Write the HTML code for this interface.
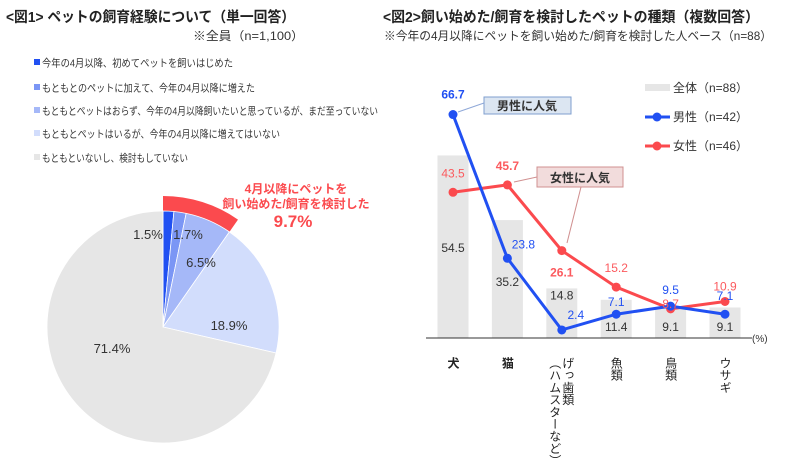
<!DOCTYPE html>
<html><head><meta charset="utf-8">
<style>
body{margin:0;background:#fff;width:788px;height:468px;overflow:hidden;font-family:"Liberation Sans","Noto Sans CJK JP",sans-serif;}
svg text{font-family:"Liberation Sans","Noto Sans CJK JP",sans-serif;}
</style></head><body>
<svg id="c" width="788" height="468" xmlns="http://www.w3.org/2000/svg">
<text x="6" y="22" font-size="14.5" font-weight="bold" fill="#222" textLength="289" lengthAdjust="spacingAndGlyphs">&lt;図1&gt; ペットの飼育経験について（単一回答）</text>
<text x="193" y="40" font-size="12" fill="#333" textLength="111" lengthAdjust="spacingAndGlyphs">※全員（n=1,100）</text>
<text x="383" y="22" font-size="14.5" font-weight="bold" fill="#222" textLength="376" lengthAdjust="spacingAndGlyphs">&lt;図2&gt;飼い始めた/飼育を検討したペットの種類（複数回答）</text>
<text x="384" y="40" font-size="12" fill="#333" textLength="388" lengthAdjust="spacingAndGlyphs">※今年の4月以降にペットを飼い始めた/飼育を検討した人ベース（n=88）</text>
<g id="pieLegend"></g>
<g id="pie"></g>
<g id="line"></g>
</svg>
<script>
const NS="http://www.w3.org/2000/svg";
function mk(p,tag,attrs,txt){const e=document.createElementNS(NS,tag);for(const k in attrs)e.setAttribute(k,attrs[k]);if(txt!=null)e.textContent=txt;p.appendChild(e);return e;}

// pie data
const pieLabels=["今年の4月以降、初めてペットを飼いはじめた","もともとのペットに加えて、今年の4月以降に増えた","もともとペットはおらず、今年の4月以降飼いたいと思っているが、まだ至っていない","もともとペットはいるが、今年の4月以降に増えてはいない","もともといないし、検討もしていない"];
const pieValues=[1.5,1.7,6.5,18.9,71.4];
const pieColors=["#2150f2","#7b96f5","#a5b8f8","#d2ddfc","#e6e6e6"];
const highlightValue=9.7;

const lg=document.getElementById('pieLegend');
const ly=[63,88,111,134,158];
const lw=[191,213,336,238,146];
pieLabels.forEach((l,i)=>{
  const g=mk(lg,'g',{});
  
  
  mk(g,'rect',{x:34,y:ly[i]-4,width:6,height:6,fill:pieColors[i]});
  mk(g,'text',{x:42,y:ly[i]+3.5,'font-size':10.5,fill:'#333',textLength:lw[i],lengthAdjust:'spacingAndGlyphs'},l);
});

const pg=document.getElementById('pie');
const cx=163,cy=327,R=116;
function pt(r,frac){const a=frac*2*Math.PI-Math.PI/2;return [cx+r*Math.cos(a),cy+r*Math.sin(a)];}
function sector(r,f0,f1){const p0=pt(r,f0),p1=pt(r,f1);const la=(f1-f0)>0.5?1:0;return `M${cx},${cy}L${p0[0]},${p0[1]}A${r},${r} 0 ${la} 1 ${p1[0]},${p1[1]}Z`;}
const hl=mk(pg,'path',{d:sector(131,0,highlightValue/100),fill:'#fb4a4e'});


let acc=0;
pieValues.forEach((v,i)=>{
  const f0=acc/100,f1=(acc+v)/100;
  const s=mk(pg,'path',{d:sector(R,f0,f1),fill:pieColors[i],stroke:'#fff','stroke-width':0.8});
  
  
  acc+=v;
});
const sl=[[148,239],[188,239],[201,267],[229,330],[112,353]];
sl.forEach((s,i)=>{const t=mk(pg,'text',{x:s[0],y:s[1],'font-size':13,fill:'#333','text-anchor':'middle'},pieValues[i].toFixed(1)+'%');
 });
mk(pg,'text',{x:296,y:193,'font-size':12,fill:'#fb4a4e','text-anchor':'middle','font-weight':'bold'},'4月以降にペットを');
mk(pg,'text',{x:296,y:208,'font-size':12,fill:'#fb4a4e','text-anchor':'middle','font-weight':'bold'},'飼い始めた/飼育を検討した');
mk(pg,'text',{x:293,y:227,'font-size':17,fill:'#fb4a4e','text-anchor':'middle','font-weight':'bold'},highlightValue.toFixed(1)+'%');

// line chart data
const cats=[["犬"],["猫"],["げっ歯類","（ハムスターなど）"],["魚類"],["鳥類"],["ウサギ"]];
const totalVals=[54.5,35.2,14.8,11.4,9.1,9.1];
const maleVals=[66.7,23.8,2.4,7.1,9.5,7.1];
const femaleVals=[43.5,45.7,26.1,15.2,8.7,10.9];

const lc=document.getElementById('line');
const base=338,sc=3.35;
const xs=i=>453+i*54.4;
const ys=v=>base-v*sc;
totalVals.forEach((v,i)=>{
  const r=mk(lc,'rect',{x:xs(i)-15.5,y:ys(v),width:31,height:v*sc,fill:'#e6e6e6'});
  
  
});
const ax=mk(lc,'line',{x1:426,x2:752,y1:base,y2:base,stroke:'#333','stroke-width':1});

mk(lc,'text',{x:752,y:342,'font-size':10,fill:'#333'},'(%)');
totalVals.forEach((v,i)=>{const t=mk(lc,'text',{x:xs(i),y:0,'font-size':12,fill:'#333','text-anchor':'middle'},v.toFixed(1));
 t.setAttribute('y', i===0?252:i===1?286:i===2?ys(v)+11:331);
 });
mk(lc,'line',{x1:458,y1:112,x2:484,y2:103,stroke:'#8fa8d8','stroke-width':1});
const cb1=mk(lc,'rect',{x:484,y:97,width:87,height:17,fill:'#dce6f2',stroke:'#7f9fcf'});

mk(lc,'text',{x:527,y:110,'font-size':12,'font-weight':'bold',fill:'#333','text-anchor':'middle'},'男性に人気');
mk(lc,'line',{x1:514,y1:182,x2:537,y2:177,stroke:'#d09090','stroke-width':1});
mk(lc,'line',{x1:581,y1:187,x2:567,y2:243,stroke:'#d09090','stroke-width':1});
const cb2=mk(lc,'rect',{x:537,y:167,width:86,height:20,fill:'#f2dcdc',stroke:'#d09090'});

mk(lc,'text',{x:580,y:182,'font-size':12,'font-weight':'bold',fill:'#333','text-anchor':'middle'},'女性に人気');
function series(vals,color,name){
  const p=mk(lc,'polyline',{points:vals.map((v,i)=>xs(i)+','+ys(v)).join(' '),fill:'none',stroke:color,'stroke-width':3});
  
  vals.forEach((v,i)=>{const c=mk(lc,'circle',{cx:xs(i),cy:ys(v),r:4.5,fill:color});
   });
}
series(femaleVals,'#fb4a4e','female');
series(maleVals,'#2150f2','male');
const mOff=[[0,-16],[16,-10],[14,-11],[0,-8],[0,-12],[0,-14]];
const mBold=[true,false,false,false,false,false];
maleVals.forEach((v,i)=>{const t=mk(lc,'text',{x:xs(i)+mOff[i][0],y:ys(v)+mOff[i][1],'font-size':12,fill:'#2150f2','text-anchor':'middle','font-weight':mBold[i]?'bold':'normal'},v.toFixed(1));
 });
const fOff=[[0,-15],[0,-15],[0,26],[0,-15],[0,-1],[0,-11]];
const fBold=[false,true,true,false,false,false];
femaleVals.forEach((v,i)=>{const t=mk(lc,'text',{x:xs(i)+fOff[i][0],y:ys(v)+fOff[i][1],'font-size':12,fill:'#fb5a5e','text-anchor':'middle','font-weight':fBold[i]?'bold':'normal'},v.toFixed(1));
 });
cats.forEach((c,i)=>{
  const g=mk(lc,'g',{});
  
  const bold=i<2;
  const cols=c.length;
  c.forEach((col,j)=>{
    const x= xs(i) + (cols===1?0:(j===0?6:-7));
    [...col].forEach((ch,k)=>{
      mk(g,'text',{x:x,y:363+k*12.2,'font-size':12,'font-weight':bold?'bold':'normal',fill:'#222','text-anchor':'middle','writing-mode':'tb'},ch);
    });
  });
});
const lg2=mk(lc,'g',{});

mk(lg2,'rect',{x:645,y:84,width:25,height:7,fill:'#e6e6e6'});
mk(lg2,'text',{x:673,y:92,'font-size':12,fill:'#333'},'全体（n=88）');
mk(lg2,'line',{x1:645,x2:670,y1:117,y2:117,stroke:'#2150f2','stroke-width':3});
mk(lg2,'circle',{cx:657,cy:117,r:4.5,fill:'#2150f2'});
mk(lg2,'text',{x:673,y:121,'font-size':12,fill:'#333'},'男性（n=42）');
mk(lg2,'line',{x1:645,x2:670,y1:146,y2:146,stroke:'#fb4a4e','stroke-width':3});
mk(lg2,'circle',{cx:657,cy:146,r:4.5,fill:'#fb4a4e'});
mk(lg2,'text',{x:673,y:150,'font-size':12,fill:'#333'},'女性（n=46）');
</script>
</body></html>
